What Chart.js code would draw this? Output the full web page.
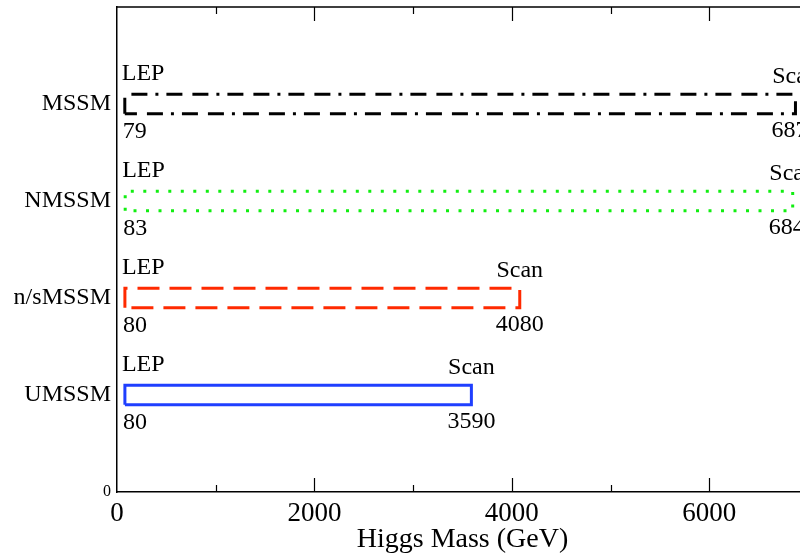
<!DOCTYPE html>
<html>
<head>
<meta charset="utf-8">
<title>Higgs mass ranges</title>
<script src="https://cdn.jsdelivr.net/npm/chart.js@4.4.1/dist/chart.umd.min.js"></script>
<style>
  html, body { margin: 0; padding: 0; background: #fff; overflow: hidden; }
  #wrap { width: 830px; height: 556px; }
</style>
</head>
<body>
<div id="wrap"><canvas id="massChart" width="830" height="556"></canvas></div>
<script>
// ---------------------------------------------
// Upper/lower Higgs mass bounds per model
// ---------------------------------------------
const models = ["MSSM", "NMSSM", "n/sMSSM", "UMSSM"];
const lepBound = [79, 83, 80, 80];        // lower end (LEP limit), GeV
const scanMax = [6873, 6845, 4080, 3590]; // upper end from the scan, GeV
const rowPos = [4, 3, 2, 1];              // y slot for each model
const lowLabel = "LEP";
const highLabel = "Scan";

const xTicks = [0, 2000, 4000, 6000];

const colors = ["#000000", "#11ee11", "#ff2a00", "#1f3fff"];
const dashes = [[16, 10, 16, 8, 3, 8], [3, 9.5], [22, 10], []];

const SERIF = '"Liberation Serif", "DejaVu Serif", serif';
const HALF = 0.1; // half height of each box in y units

// each model is drawn as a closed rectangle from LEP bound to scan max
const datasets = models.map((name, i) => ({
  label: name,
  data: [
    { x: lepBound[i], y: rowPos[i] - HALF },
    { x: lepBound[i], y: rowPos[i] + HALF },
    { x: scanMax[i], y: rowPos[i] + HALF },
    { x: scanMax[i], y: rowPos[i] - HALF },
    { x: lepBound[i], y: rowPos[i] - HALF },
  ],
  borderColor: colors[i],
  borderWidth: 3,
  borderDash: dashes[i],
  borderCapStyle: "butt",
  borderJoinStyle: "miter",
  pointRadius: 0,
  fill: false,
  tension: 0,
}));

// inward tick marks on bottom and top edges, plus the top frame line
const frameTicks = {
  id: "frameTicks",
  afterDraw(chart) {
    const { ctx, chartArea: a, scales } = chart;
    const xs = scales.x;
    ctx.save();
    ctx.strokeStyle = "#000";
    ctx.lineWidth = 1.5;
    ctx.beginPath();
    ctx.moveTo(a.left, a.top);
    ctx.lineTo(a.right, a.top);
    ctx.lineTo(a.right, a.bottom);
    ctx.stroke();
    ctx.lineWidth = 1.2;
    xs.ticks.forEach((t) => {
      if (t.value <= xs.min || t.value >= xs.max) return;
      const px = Math.round(xs.getPixelForValue(t.value)) + 0.5;
      const len = xTicks.includes(t.value) ? 14 : 7;
      ctx.beginPath();
      ctx.moveTo(px, a.bottom);
      ctx.lineTo(px, a.bottom - len);
      ctx.moveTo(px, a.top);
      ctx.lineTo(px, a.top + len);
      ctx.stroke();
    });
    ctx.restore();
  },
};

// "LEP"/"Scan" captions above each box and the bound values below
const boundLabels = {
  id: "boundLabels",
  afterDatasetsDraw(chart) {
    const { ctx, scales } = chart;
    const xs = scales.x, ys = scales.y;
    ctx.save();
    ctx.fillStyle = "#000";
    ctx.font = "24px " + SERIF;
    ctx.textBaseline = "middle";
    models.forEach((name, i) => {
      const x0 = xs.getPixelForValue(lepBound[i]);
      const x1 = xs.getPixelForValue(scanMax[i]);
      const top = ys.getPixelForValue(rowPos[i] + HALF);
      const bot = ys.getPixelForValue(rowPos[i] - HALF);
      ctx.textAlign = "left";
      ctx.fillText(lowLabel, x0 - 3, top - 21);
      ctx.fillText(String(lepBound[i]), x0 - 2, bot + 18);
      ctx.textAlign = "center";
      ctx.fillText(highLabel, x1, top - 18);
      ctx.fillText(String(scanMax[i]), x1, bot + 17);
    });
    ctx.restore();
  },
};

// the empty top tick gets a tiny font so it adds no padding above the plot
function yTickFont(c) {
  const v = c.tick ? c.tick.value : null;
  let size = 24;
  if (v === 0) size = 16;
  if (v === 5) size = 1;
  return { family: SERIF, size: size };
}

new Chart(document.getElementById("massChart"), {
  type: "line",
  data: { datasets },
  plugins: [frameTicks, boundLabels],
  options: {
    responsive: false,
    animation: false,
    layout: { padding: { top: 7, right: 22, left: 0, bottom: 0 } },
    plugins: { legend: { display: false }, tooltip: { enabled: false } },
    scales: {
      x: {
        type: "linear",
        min: 0,
        max: 7000,
        grid: { display: false, drawTicks: false },
        border: { color: "#000", width: 1.5 },
        ticks: {
          stepSize: 1000,
          autoSkip: false,
          maxRotation: 0,
          padding: 6,
          color: "#000",
          font: { family: SERIF, size: 27 },
          callback: (v) => (xTicks.includes(v) ? String(v) : ""),
        },
        title: {
          display: true,
          text: "Higgs Mass (GeV)",
          color: "#000",
          font: { family: SERIF, size: 28 },
          padding: { top: 0, bottom: 0 },
        },
        afterFit(scale) { scale.height = 64; },
      },
      y: {
        type: "linear",
        min: 0,
        max: 5,
        grid: { display: false, drawTicks: false },
        border: { color: "#000", width: 1.5 },
        ticks: {
          stepSize: 1,
          autoSkip: false,
          padding: 6,
          color: "#000",
          font: yTickFont,
          callback: (v) => {
            if (v === 0) return "0";
            const i = rowPos.indexOf(v);
            return i >= 0 ? models[i] : "";
          },
        },
        afterFit(scale) { scale.width = 117; },
      },
    },
  },
});
</script>
</body>
</html>
